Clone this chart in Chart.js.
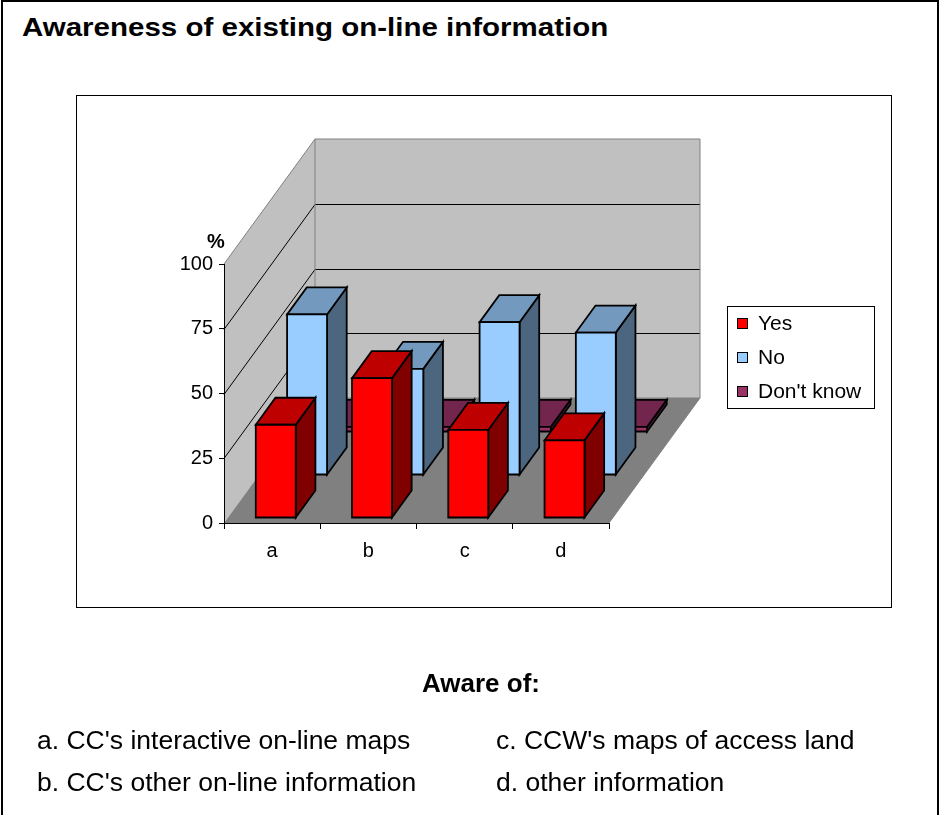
<!DOCTYPE html>
<html>
<head>
<meta charset="utf-8">
<script src="https://cdn.jsdelivr.net/npm/chart.js@4.4.1/dist/chart.umd.min.js"></script>
<style>
  html, body { margin: 0; padding: 0; background: #fff; }
  body { width: 941px; height: 815px; position: relative; overflow: hidden; font-family: 'Liberation Sans', Arial, sans-serif; color: #000; }
  .frame { position: absolute; left: 1px; top: 0; width: 934px; height: 900px; border: 2px solid #000; }
  .box { position: absolute; left: 76px; top: 95px; width: 814px; height: 511px; border: 1px solid #000; }
  canvas { position: absolute; left: 0; top: 0; }
  .txt { position: absolute; white-space: nowrap; }
  #title { left: 22px; top: 15px; font-size: 25px; line-height: 25px; font-weight: bold; transform: scaleX(1.18); transform-origin: left top; }
  #aware { left: 422px; top: 670px; font-size: 26px; line-height: 26px; font-weight: bold; }
  .note { font-size: 26.5px; line-height: 26px; }
</style>
</head>
<body>
<div class="frame"></div>
<div class="box"></div>
<div class="txt" id="title">Awareness of existing on-line information</div>
<canvas id="chart" width="941" height="815"></canvas>
<div class="txt" id="aware">Aware of:</div>
<div class="txt note" style="left:37px; top:727px;">a. CC's interactive on-line maps</div>
<div class="txt note" style="left:496px; top:727px;">c. CCW's maps of access land</div>
<div class="txt note" style="left:37px; top:769px;">b. CC's other on-line information</div>
<div class="txt note" style="left:496px; top:769px;">d. other information</div>

<script>
// data (percent)
const categories = ['a', 'b', 'c', 'd'];
const yesValues = [36, 54, 34, 30];
const noValues = [62, 41, 59, 55];
const dontKnowValues = [2, 2, 2, 2];
const seriesNames = ['Yes', 'No', "Don't know"];
const seriesColors = ['#FF0000', '#99CCFF', '#993366'];
const yTicks = [0, 25, 50, 75, 100];

// fake 3d look: how far the back wall sits from the front plane
const DX = 91, DY = 125;
const rowStart = [0.04, 0.384, 0.728];
const barDepth = 0.216;
const FONT = "'Liberation Sans', Arial, sans-serif";

function shade(hex, f) {
    const n = parseInt(hex.slice(1), 16);
    const r = Math.round(((n >> 16) & 255) * f);
    const g = Math.round(((n >> 8) & 255) * f);
    const b = Math.round((n & 255) * f);
    return 'rgb(' + r + ',' + g + ',' + b + ')';
}

function poly(ctx, pts, fill, stroke, lw) {
    ctx.beginPath();
    ctx.moveTo(pts[0][0], pts[0][1]);
    for (let i = 1; i < pts.length; i++) ctx.lineTo(pts[i][0], pts[i][1]);
    ctx.closePath();
    if (fill) { ctx.fillStyle = fill; ctx.fill(); }
    if (stroke) { ctx.strokeStyle = stroke; ctx.lineWidth = lw || 1; ctx.stroke(); }
}

const walls3d = {
    id: 'walls3d',
    beforeDraw(chart) {
        const ctx = chart.ctx;
        const a = chart.chartArea;
        const y = chart.scales.y;
        const L = a.left, R = a.right, T = a.top, B = a.bottom;
        ctx.save();
        ctx.lineJoin = 'miter';
        // side wall, back wall, floor
        poly(ctx, [[L, T], [L + DX, T - DY], [L + DX, B - DY], [L, B]], '#C0C0C0', null);
        poly(ctx, [[L + DX, T - DY], [R + DX, T - DY], [R + DX, B - DY], [L + DX, B - DY]], '#C0C0C0', null);
        poly(ctx, [[L, B], [R, B], [R + DX, B - DY], [L + DX, B - DY]], '#808080', null);
        // gridlines on the walls
        ctx.lineWidth = 1;
        yTicks.forEach(v => {
            if (v === 0 || v === 100) return;
            const py = Math.round(y.getPixelForValue(v)) + 0.5;
            ctx.strokeStyle = '#000';
            ctx.beginPath();
            ctx.moveTo(L, py);
            ctx.lineTo(L + DX, py - DY);
            ctx.lineTo(R + DX, py - DY);
            ctx.stroke();
        });
        // wall edges
        ctx.strokeStyle = '#808080';
        ctx.beginPath();
        ctx.moveTo(L, T);
        ctx.lineTo(L + DX, T - DY);
        ctx.lineTo(R + DX, T - DY);
        ctx.lineTo(R + DX, B - DY);
        ctx.lineTo(R, B);
        ctx.moveTo(L + DX, T - DY);
        ctx.lineTo(L + DX, B - DY);
        ctx.lineTo(R + DX, B - DY);
        ctx.stroke();
        ctx.restore();
    },
    beforeDatasetsDraw(chart) {
        const ctx = chart.ctx;
        ctx.save();
        ctx.lineJoin = 'miter';
        const bx = barDepth * DX, by = barDepth * DY;
        // back row first so the front rows cover it
        [2, 1, 0].forEach(i => {
            const meta = chart.getDatasetMeta(i);
            const c = seriesColors[i];
            const ox = rowStart[i] * DX, oy = rowStart[i] * DY;
            meta.data.forEach(bar => {
                const p = bar.getProps(['x', 'y', 'base', 'width']);
                const x0 = p.x - p.width / 2 + ox, x1 = p.x + p.width / 2 + ox;
                const t = p.y - oy, b = p.base - oy;
                poly(ctx, [[x1, t], [x1 + bx, t - by], [x1 + bx, b - by], [x1, b]], shade(c, 0.5), '#000', 1.8);
                poly(ctx, [[x0, t], [x1, t], [x1 + bx, t - by], [x0 + bx, t - by]], shade(c, 0.75), '#000', 1.8);
                poly(ctx, [[x0, t], [x1, t], [x1, b], [x0, b]], c, '#000', 1.8);
            });
        });
        ctx.restore();
        return false;
    },
    afterDraw(chart) {
        const ctx = chart.ctx;
        const a = chart.chartArea;
        ctx.save();
        // "%" over the value axis
        ctx.fillStyle = '#000';
        ctx.font = 'bold 20px ' + FONT;
        ctx.textAlign = 'center';
        ctx.textBaseline = 'middle';
        ctx.fillText('%', a.left - 8, a.top - 22);
        // legend box
        const lx = a.right + 118, ly = a.top + 42;
        ctx.fillStyle = '#fff';
        ctx.fillRect(lx, ly, 147, 102);
        ctx.strokeStyle = '#000';
        ctx.lineWidth = 1;
        ctx.strokeRect(lx + 0.5, ly + 0.5, 147, 102);
        ctx.font = '21px ' + FONT;
        ctx.textAlign = 'left';
        chart.data.datasets.forEach((ds, i) => {
            const cy = ly + 17 + i * 34;
            ctx.fillStyle = ds.backgroundColor;
            ctx.fillRect(lx + 10, cy - 5, 10, 10);
            ctx.strokeRect(lx + 10.5, cy - 4.5, 10, 10);
            ctx.fillStyle = '#000';
            ctx.fillText(ds.label, lx + 31, cy + 1);
        });
        ctx.restore();
    }
};

const seriesValues = [yesValues, noValues, dontKnowValues];

new Chart(document.getElementById('chart').getContext('2d'), {
    type: 'bar',
    data: {
        labels: categories,
        datasets: seriesNames.map((name, i) => ({
            label: name,
            data: seriesValues[i],
            backgroundColor: seriesColors[i],
            grouped: false,
            categoryPercentage: 1,
            barPercentage: 0.415
        }))
    },
    options: {
        responsive: false,
        animation: false,
        devicePixelRatio: 1,
        layout: { padding: { left: 164, top: 264, right: 332, bottom: 242 } },
        plugins: {
            legend: { display: false },
            tooltip: { enabled: false }
        },
        scales: {
            x: {
                grid: { drawOnChartArea: false, tickLength: 6, color: '#000' },
                border: { color: '#000', width: 1 },
                ticks: { color: '#000', font: { family: FONT, size: 20 }, padding: 10 },
                afterFit: s => { s.height = 50; }
            },
            y: {
                min: 0,
                max: 100,
                afterBuildTicks: s => { s.ticks = yTicks.map(v => ({ value: v })); },
                grid: { drawOnChartArea: false, tickLength: 5, color: '#000' },
                border: { color: '#000', width: 1 },
                ticks: { color: '#000', font: { family: FONT, size: 20 }, padding: 6 },
                afterFit: s => { s.width = 60; }
            }
        }
    },
    plugins: [walls3d]
});
</script>
</body>
</html>
